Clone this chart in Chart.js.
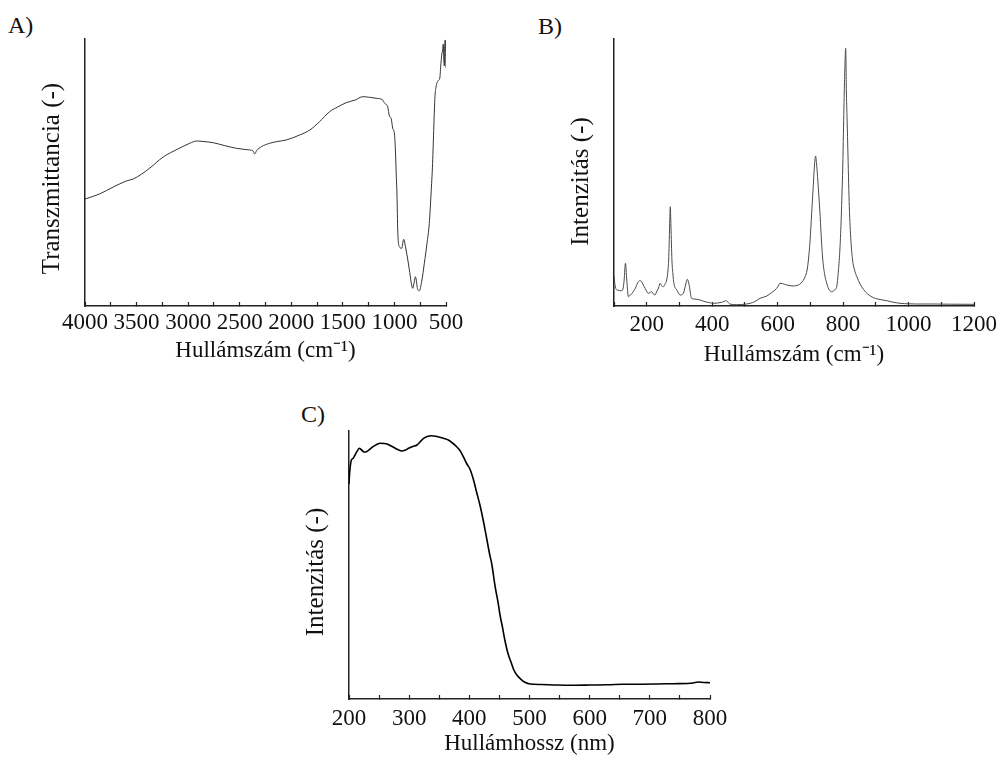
<!DOCTYPE html>
<html>
<head>
<meta charset="utf-8">
<script src="https://cdn.jsdelivr.net/npm/chart.js@4.4.1/dist/chart.umd.min.js"></script>
<style>
  body { margin: 0; background: #fff; width: 997px; height: 761px; position: relative; overflow: hidden; font-family: "Liberation Serif", "Times New Roman", serif; }
  canvas { position: absolute; }
  .tag { position: absolute; font-size: 24px; line-height: 24px; color: #111; }
</style>
</head>
<body>
<div class="tag" style="left:8px; top:13px;">A)</div>
<div class="tag" style="left:538px; top:14px;">B)</div>
<div class="tag" style="left:301px; top:402px;">C)</div>

<canvas id="ir" width="470" height="375" style="left:0; top:0;"></canvas>
<canvas id="raman" width="497" height="375" style="left:500px; top:0;"></canvas>
<canvas id="uv" width="500" height="381" style="left:250px; top:380px;"></canvas>

<script>
// A) IR spectrum
const irWavenumber = [4000, 3860, 3726, 3600, 3533, 3450, 3371, 3242, 3100, 2984, 2919, 2855, 2758, 2650, 2532, 2403, 2370, 2355, 2335, 2290, 2210, 2145, 2050, 1919, 1820, 1726, 1629, 1550, 1468, 1380, 1307, 1240, 1177, 1113, 1097, 1065, 1049, 1032, 1017, 1000, 990, 984, 975, 968, 952, 930, 910, 898, 887, 870, 855, 823, 808, 797, 790, 775, 758, 735, 710, 685, 662, 645, 630, 618, 607, 597, 587, 570, 560, 549, 540, 533, 527, 521, 516, 512, 506, 502, 500];
const irTransmittance = [107, 112, 119, 125, 127, 132, 138, 149, 157, 162.7, 165, 164.5, 163.3, 160.5, 157.7, 156, 155, 152, 155.5, 159.3, 162.7, 164.3, 166, 171, 176, 184.3, 194.3, 199, 203.3, 206, 209.3, 208.7, 207.7, 206, 203, 199.3, 190, 187.7, 178, 172, 155, 136, 110, 76, 59.3, 57.7, 66.7, 62, 56, 46, 36, 17.7, 24, 29.3, 27, 16.7, 15.3, 25, 42.7, 62, 82.7, 112, 142.7, 180, 209.3, 219, 223.3, 226, 228, 242.7, 252, 256, 262, 246, 240, 264, 266, 244, 238];
const irTicks = [500, 750, 1000, 1250, 1500, 1750, 2000, 2250, 2500, 2750, 3000, 3250, 3500, 3750, 4000];
const irLabels = [500, 1000, 1500, 2000, 2500, 3000, 3500, 4000];

// B) Raman spectrum
const ramanShift = [100, 104, 110, 123, 128, 131, 135, 139, 144, 150, 159, 167, 174, 181, 188, 195, 205, 215, 220, 225, 230, 236, 241, 246, 251, 256, 261, 265, 267, 270, 272, 274, 277, 280, 283, 292, 302, 312, 318, 324, 329, 337, 345, 363, 378, 393, 403, 429, 444, 450, 454, 475, 505, 516, 530, 546, 567, 580, 592, 600, 607, 614, 628, 648, 663, 672, 684, 690, 694, 699, 704, 708, 711, 714, 716, 719, 722, 726, 730, 734, 738, 744, 750, 756, 765, 771, 777, 781, 785, 790, 794, 796, 799, 801, 804, 808, 810, 812, 815, 819, 824, 829, 835, 842, 852, 862, 875, 893, 913, 933, 950, 974, 1000, 1025, 1075, 1125, 1200];
const ramanIntensity = [30, 19, 16, 15.3, 18, 26, 42.7, 26, 9.3, 11, 14.3, 19, 24.3, 25.3, 22, 17.7, 12.7, 14.3, 12, 11, 14, 18, 22.7, 20, 19.3, 22, 26, 36, 46, 80, 99.3, 80, 46, 32, 22.7, 16, 11, 12.7, 20, 26.7, 22, 7.7, 7, 6, 4.3, 3.3, 2.7, 3.7, 5.3, 3, 2, 1.3, 2, 2.7, 4.3, 7.7, 10, 13, 16, 19, 22.7, 22.5, 21, 20, 21, 23, 29.3, 36, 46, 65, 92.7, 115, 132.7, 146, 150, 142, 129.3, 110, 89.3, 65, 46, 31, 22.7, 17, 14.3, 15, 17, 20, 32.7, 55, 85, 106, 140, 172.7, 220, 257.7, 215, 189.3, 150, 99.3, 65, 46, 36, 29.3, 22, 16.7, 12, 8.3, 6.5, 5.3, 4, 2.7, 2.2, 2, 2, 1.8, 1.7];
const ramanTicks = [100, 200, 300, 400, 500, 600, 700, 800, 900, 1000, 1100, 1200];
const ramanLabels = [200, 400, 600, 800, 1000, 1200];

// C) UV-Vis spectrum
const uvWavelength = [200, 200.5, 202, 204, 207, 210, 213, 217, 221, 225, 229, 235, 240, 246, 252, 258, 263, 270, 274, 281, 288, 294, 299, 306, 313, 318, 324, 330, 337, 344, 351, 358, 365, 372, 379, 385, 390, 396, 401, 407, 412, 418, 423, 429, 434, 437, 443, 448, 451, 455, 459, 464, 470, 474, 479, 484, 490, 501, 520, 545, 575, 601, 630, 656, 685, 711, 740, 767, 781, 790, 800];
const uvIntensity = [215, 221, 232, 239, 240.7, 244, 247.3, 250.7, 249, 247, 247.3, 250, 252.3, 254.5, 255.7, 255.5, 255, 253, 251.7, 249.5, 248, 249, 250.7, 252.5, 254, 257, 260.7, 262.5, 263.3, 262.8, 261.7, 260.5, 259, 256, 252.3, 248, 242.3, 235, 230, 219, 207, 193, 179, 160, 144, 136, 112, 95.7, 84, 72, 59, 46, 35.7, 29, 24, 20.7, 17.5, 15, 14.5, 14, 13.8, 14, 14.2, 14.7, 14.8, 15, 15.3, 15.7, 17, 16.5, 16.3];
const uvTicks = [200, 250, 300, 350, 400, 450, 500, 550, 600, 650, 700, 750, 800];
const uvLabels = [200, 300, 400, 500, 600, 700, 800];

const serif = 'Liberation Serif';
const ink = '#222';

// rotated y-axis caption, nudged a bit below the plot centre
const sideTitle = {
  id: 'sideTitle',
  afterDraw(chart, args, opts) {
    const { ctx, chartArea } = chart;
    ctx.save();
    ctx.translate(opts.x, (chartArea.top + chartArea.bottom) / 2 + opts.shift);
    ctx.rotate(-Math.PI / 2);
    ctx.font = '25px ' + serif;
    ctx.fillStyle = '#111';
    ctx.textAlign = 'center';
    ctx.textBaseline = 'middle';
    ctx.fillText(opts.text, 0, 0);
    ctx.restore();
  }
};

function spectrum(id, s) {
  new Chart(document.getElementById(id), {
    type: 'line',
    data: {
      datasets: [{
        data: s.xs.map((x, i) => ({ x: x, y: s.ys[i] })),
        borderColor: s.color,
        borderWidth: s.width,
        pointRadius: 0,
        cubicInterpolationMode: 'monotone',
        fill: false
      }]
    },
    options: {
      responsive: false,
      animation: false,
      layout: { padding: { left: 0, top: s.top, right: s.right, bottom: s.bottom } },
      plugins: {
        legend: { display: false },
        tooltip: { enabled: false },
        sideTitle: { text: s.yTitle, x: s.yTitleX, shift: s.yTitleShift }
      },
      scales: {
        x: {
          type: 'linear',
          min: s.min,
          max: s.max,
          reverse: !!s.reverse,
          afterFit: (axis) => {
            // fixed band under the plot; edge labels may overhang
            axis.height = s.xHeight;
            axis.paddingLeft = 0;
            axis.paddingRight = 0;
          },
          afterBuildTicks: (axis) => { axis.ticks = s.ticks.map(v => ({ value: v })); },
          grid: { drawOnChartArea: false, color: ink, tickLength: -4, tickWidth: 1.2 },
          border: { color: ink, width: 1.5 },
          ticks: {
            autoSkip: false,
            maxRotation: 0,
            padding: s.tickPad,
            color: '#111',
            font: { family: serif, size: 23 },
            callback: (v) => s.labels.includes(v) ? String(v) : ''
          },
          title: {
            display: true,
            text: s.xTitle,
            color: '#111',
            font: { family: serif, size: 23 },
            padding: { top: 0, bottom: s.xTitlePad }
          }
        },
        y: {
          min: 0,
          max: s.yMax,
          afterFit: (axis) => { axis.width = s.yWidth; },
          grid: { display: false },
          border: { color: ink, width: 1.5 },
          ticks: { display: false },
          title: { display: false }
        }
      }
    },
    plugins: [sideTitle]
  });
}

spectrum('ir', {
  xs: irWavenumber, ys: irTransmittance, color: '#333', width: 1,
  min: 500, max: 4000, reverse: true, ticks: irTicks, labels: irLabels,
  yMax: 267, top: 39, right: 24, bottom: 5, xHeight: 64, yWidth: 85,
  tickPad: 7, xTitlePad: 5, yTitleX: 52, yTitleShift: 6,
  xTitle: 'Hullámszám (cm⁻¹)', yTitle: 'Transzmittancia (-)'
});

spectrum('raman', {
  xs: ramanShift, ys: ramanIntensity, color: '#4a4a4a', width: 1,
  min: 100, max: 1200, ticks: ramanTicks, labels: ramanLabels,
  yMax: 267, top: 39, right: 23, bottom: 5, xHeight: 64, yWidth: 114,
  tickPad: 9, xTitlePad: 1, yTitleX: 81, yTitleShift: 9,
  xTitle: 'Hullámszám (cm⁻¹)', yTitle: 'Intenzitás (-)'
});

spectrum('uv', {
  xs: uvWavelength, ys: uvIntensity, color: '#000', width: 1.6,
  min: 200, max: 800, ticks: uvTicks, labels: uvLabels,
  yMax: 268, top: 51, right: 40, bottom: 0, xHeight: 62, yWidth: 99,
  tickPad: 10, xTitlePad: 3, yTitleX: 66, yTitleShift: 7,
  xTitle: 'Hullámhossz (nm)', yTitle: 'Intenzitás (-)'
});
</script>
</body>
</html>
